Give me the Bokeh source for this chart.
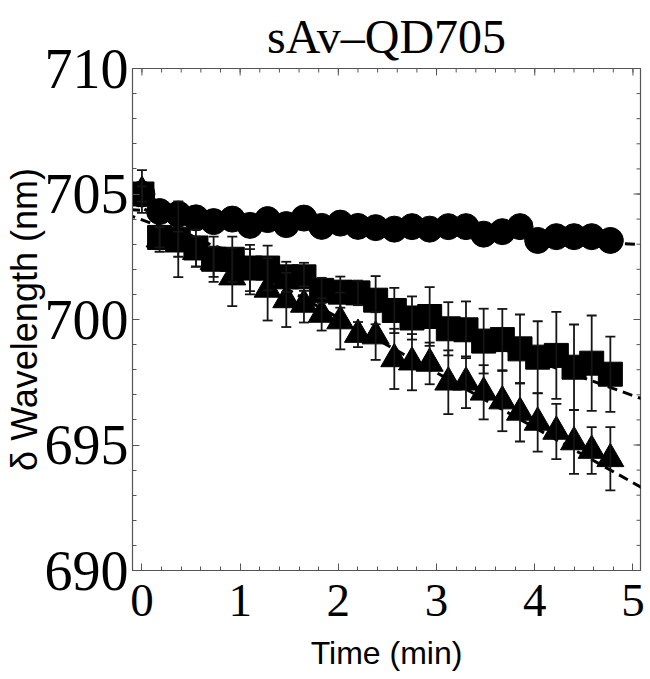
import math
from bokeh.plotting import figure
from bokeh.models import ColumnDataSource, Whisker, TeeHead, Range1d, FixedTicker, Slope
from bokeh.embed import file_html
from bokeh.resources import INLINE

# ---- data ----
time_min = [0.00, 0.18, 0.37, 0.55, 0.73, 0.92, 1.10, 1.28, 1.47, 1.65, 1.83, 2.02, 2.20, 2.38,
            2.57, 2.75, 2.93, 3.12, 3.30, 3.48, 3.67, 3.85, 4.03, 4.22, 4.40, 4.58, 4.77]

circle_nm = [705.0, 704.3, 704.2, 704.05, 703.9, 704.0, 703.75, 703.98, 703.78, 704.04, 703.71,
             703.84, 703.71, 703.66, 703.6, 703.7, 703.6, 703.7, 703.7, 703.4, 703.5, 703.7,
             703.15, 703.3, 703.3, 703.3, 703.15]

square_nm = [705.0, 703.27, 703.2, 702.85, 702.4, 702.4, 702.05, 702.05, 701.7, 701.7, 701.16,
             701.09, 701.06, 700.77, 700.36, 700.06, 700.12, 699.63, 699.59, 699.14, 699.2,
             698.83, 698.5, 698.57, 698.1, 698.26, 697.82]
square_err = [0.3, 0.4, 1.51, 0.73, 0.9, 0.9, 0.92, 0.89, 0.6, 0.56, 0.5, 0.62, 0.49, 0.96,
              0.9, 0.86, 1.17, 1.06, 1.13, 1.29, 1.22, 1.37, 1.43, 1.73, 1.7, 1.9, 1.5]

triangle_nm = [705.1, 703.2, 703.0, 702.7, 702.3, 701.69, 701.9, 701.2, 700.78, 700.6, 700.2,
               699.94, 699.4, 699.34, 698.43, 698.3, 698.25, 697.5, 697.5, 697.1, 696.75,
               696.3, 695.9, 695.54, 695.12, 694.78, 694.45]
triangle_err = [0.85, 0.5, 0.5, 0.6, 0.6, 1.16, 0.9, 1.24, 1.08, 0.72, 0.64, 1.13, 0.5, 0.95,
                1.2, 1.12, 0.83, 1.27, 1.03, 1.08, 1.2, 1.16, 1.16, 1.1, 1.27, 0.93, 1.26]

# linear fits (intercept nm, slope nm/min)
fit_circle = (704.35, -0.27)
fit_square = (703.97, -1.40)
fit_triangle = (704.45, -2.19)

x_ticks = [0, 1, 2, 3, 4, 5]
y_ticks = [690, 695, 700, 705, 710]
x_lim = (-0.096, 5.077)
y_lim = (690, 710)
title_text = "sAv\u2013QD705"
x_label = "Time (min)"
y_label = "\u03b4 Wavelength (nm)"

# ---- figure ----
p = figure(frame_width=508, frame_height=502, output_backend="svg", toolbar_location=None,
           x_range=Range1d(*x_lim), y_range=Range1d(*y_lim),
           min_border_left=125, min_border_right=9, min_border_top=68, min_border_bottom=109,
           title=title_text)
p.title.text_font = "Liberation Serif"
p.title.text_font_size = "48px"
p.title.text_font_style = "normal"
p.title.text_color = "black"
p.title.align = "center"
p.title.standoff = 11
p.background_fill_color = "white"
p.border_fill_color = "white"
p.outline_line_color = "#555555"
p.outline_line_width = 1.2
p.xgrid.visible = False
p.ygrid.visible = False

x_minor = [round(0.2 * k, 2) for k in range(0, 26)]
y_minor = list(range(690, 711))
xt = FixedTicker(ticks=x_ticks, minor_ticks=x_minor)
yt = FixedTicker(ticks=y_ticks, minor_ticks=y_minor)

def style_axis(ax, ticker, font_px):
    ax.ticker = ticker
    ax.axis_line_color = "#555555"
    ax.major_tick_line_color = "#555555"
    ax.minor_tick_line_color = "#555555"
    ax.major_tick_in = 7
    ax.major_tick_out = 0
    ax.minor_tick_in = 4
    ax.minor_tick_out = 0
    ax.major_label_text_font = "Liberation Serif"
    ax.major_label_text_font_size = font_px
    ax.major_label_text_color = "black"

xa = p.xaxis[0]
style_axis(xa, xt, "47px")
xa.major_label_standoff = 14
xa.axis_label = x_label
xa.axis_label_text_font = "Liberation Sans"
xa.axis_label_text_font_size = "32px"
xa.axis_label_text_font_style = "normal"
xa.axis_label_text_color = "black"
xa.axis_label_standoff = 16

ya = p.yaxis[0]
style_axis(ya, yt, "56px")
ya.major_label_standoff = 4
ya.axis_label = y_label
ya.axis_label_text_font = "Liberation Sans"
ya.axis_label_text_font_size = "36px"
ya.axis_label_text_font_style = "normal"
ya.axis_label_text_color = "black"
ya.axis_label_standoff = -3

# mirrored inward ticks on the top and right frame edges
tick_color = "#555555"
p.ray(x=x_ticks, y=[y_lim[1]] * len(x_ticks), length=7, length_units="screen",
      angle=-math.pi / 2, line_color=tick_color, line_width=1)
p.ray(x=x_minor, y=[y_lim[1]] * len(x_minor), length=4, length_units="screen",
      angle=-math.pi / 2, line_color=tick_color, line_width=1)
p.ray(x=[x_lim[1]] * len(y_ticks), y=y_ticks, length=7, length_units="screen",
      angle=math.pi, line_color=tick_color, line_width=1)
p.ray(x=[x_lim[1]] * len(y_minor), y=y_minor, length=4, length_units="screen",
      angle=math.pi, line_color=tick_color, line_width=1)

# fit lines
for b, m in (fit_circle, fit_square, fit_triangle):
    p.add_layout(Slope(gradient=m, y_intercept=b, line_color="black", line_width=3,
                       line_dash="10 6", level="underlay"))

src = ColumnDataSource(dict(
    t=time_min, c=circle_nm, s=square_nm, tr=triangle_nm,
    s_lo=[v - e for v, e in zip(square_nm, square_err)],
    s_hi=[v + e for v, e in zip(square_nm, square_err)],
    tr_lo=[v - e for v, e in zip(triangle_nm, triangle_err)],
    tr_hi=[v + e for v, e in zip(triangle_nm, triangle_err)],
))

err_color = "#151515"
for lo, hi in (("s_lo", "s_hi"), ("tr_lo", "tr_hi")):
    p.add_layout(Whisker(source=src, base="t", lower=lo, upper=hi,
                         line_color=err_color, line_width=1.8,
                         upper_head=TeeHead(size=10, line_color=err_color, line_width=1.8),
                         lower_head=TeeHead(size=10, line_color=err_color, line_width=1.8),
                         level="glyph"))

p.scatter("t", "tr", source=src, marker="triangle", size=27, color="black")
p.scatter("t", "s", source=src, marker="square", size=24, color="black")
p.scatter("t", "c", source=src, marker="circle", size=26, color="black")

open("out.html", "w").write(file_html(p, INLINE))
